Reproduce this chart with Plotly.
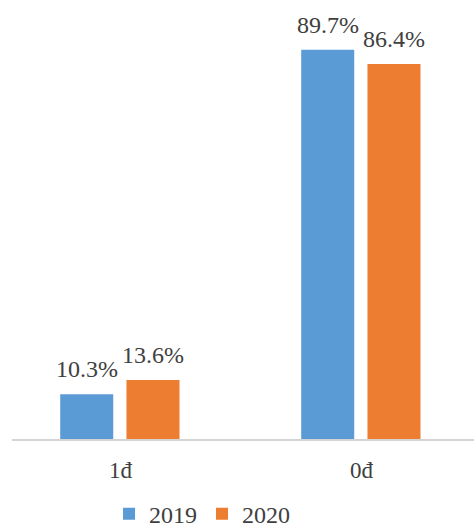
import plotly.graph_objects as go

categories = ["1đ", "0đ"]
values_2019 = [10.3, 89.7]
values_2020 = [13.6, 86.4]
series_names = ["2019", "2020"]
colors = ["#5B9BD5", "#ED7D31"]

positions = list(range(len(categories)))
bar_width = 0.22
offsets = [-0.25, 0.025]
label_font = dict(family="Liberation Serif", size=24, color="#404040")

fig = go.Figure()
for name, vals, col, off in zip(series_names, [values_2019, values_2020], colors, offsets):
    fig.add_trace(go.Bar(
        x=positions, y=vals, name=name,
        width=bar_width, offset=off,
        marker=dict(color=col, line=dict(width=0)),
    ))
    # value labels sitting above each bar
    for p, v in zip(positions, vals):
        fig.add_annotation(
            x=p + off + bar_width / 2, y=v, xref="x", yref="y",
            text=f"{v:.1f}%", showarrow=False,
            xanchor="center", yanchor="bottom", yshift=10,
            font=label_font,
        )

fig.update_layout(
    width=474, height=530,
    margin=dict(l=12, r=0, t=5, b=91, autoexpand=False),
    paper_bgcolor="white", plot_bgcolor="white",
    font=dict(family="Liberation Serif", color="#404040"),
    xaxis=dict(range=[-0.45, 1.467], showline=True, linecolor="#D4D4D4", linewidth=2,
               tickvals=positions, ticktext=categories, ticks="", ticklabelstandoff=9,
               tickfont=dict(size=23, color="#404040"), showgrid=False, zeroline=False),
    yaxis=dict(range=[0, 100], visible=False, showgrid=False),
    legend=dict(orientation="h", x=0.21, xanchor="left",
                yref="container", y=0.03, yanchor="middle",
                font=dict(size=24, color="#404040"), itemwidth=30,
                traceorder="normal"),
    showlegend=True,
)

fig.write_html("out.html")
